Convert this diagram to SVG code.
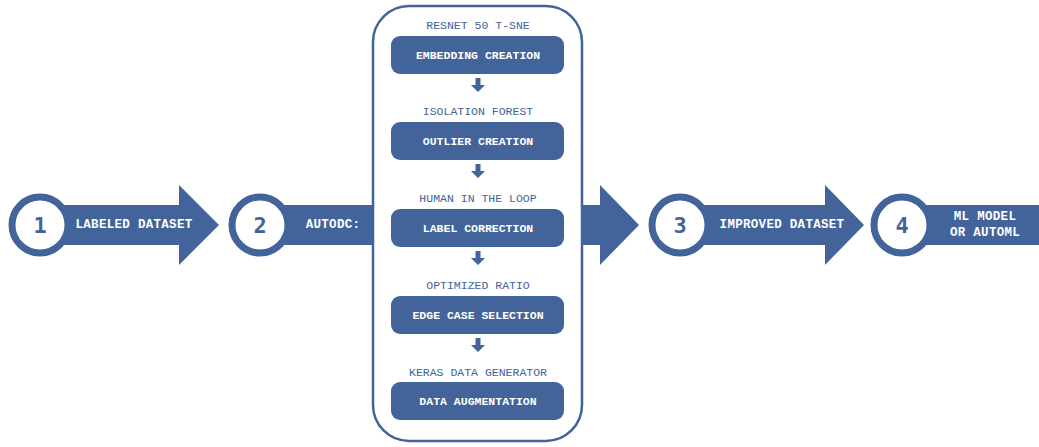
<svg xmlns="http://www.w3.org/2000/svg" width="1039" height="447" viewBox="0 0 1039 447">
<defs>
<style>
.fill{fill:#42649a}
.ring{fill:#fff;stroke:#42649a;stroke-width:7}
.num{font-family:"DejaVu Sans Mono","Liberation Mono",monospace;font-weight:bold;font-size:22px;fill:#42649a;text-anchor:middle;dominant-baseline:central}
.lbl{font-family:"Liberation Mono","DejaVu Sans Mono",monospace;font-weight:bold;font-size:12.5px;letter-spacing:0.3px;fill:#fff;text-anchor:middle;dominant-baseline:central}
.step{font-family:"Liberation Mono","DejaVu Sans Mono",monospace;font-weight:bold;font-size:11.5px;fill:#fff;text-anchor:middle;dominant-baseline:central}
.sub{font-family:"Liberation Mono","DejaVu Sans Mono",monospace;font-size:11.5px;fill:#42649a;text-anchor:middle;dominant-baseline:central}
.box{fill:#42649a}
</style>
<path id="dn" d="M-2.5,0 H2.5 V7 H7 L0,14 L-7,7 H-2.5 Z" fill="#42649a"/>
</defs>
<g id="autodc">
<rect x="373" y="6" width="209" height="435" rx="36" fill="#fff" stroke="#42649a" stroke-width="2.5"/>
</g>
<g id="connectors">
<path class="fill" d="M40,205 H179 V185 L219,225 L179,265 V245 H40 Z"/>
<path class="fill" d="M260,205 H373 V245 H260 Z"/>
<path class="fill" d="M582,205 H600 V185 L639,225 L600,265 V245 H582 Z"/>
<path class="fill" d="M680,205 H825 V185 L864,225 L825,265 V245 H680 Z"/>
<path class="fill" d="M902,205 H1039 V245 H902 Z"/>
<use href="#dn" x="478" y="78"/>
<use href="#dn" x="478" y="164"/>
<use href="#dn" x="478" y="251"/>
<use href="#dn" x="478" y="338"/>
</g>
<g id="node1">
<circle class="ring" cx="40" cy="225" r="28"/>
<text class="num" x="40" y="225">1</text>
<text class="lbl" x="134" y="225">LABELED DATASET</text>
</g>
<g id="node2">
<circle class="ring" cx="260" cy="225" r="28"/>
<text class="num" x="260" y="225">2</text>
<text class="lbl" x="333" y="225">AUTODC:</text>
</g>
<g id="step1">
<text class="sub" x="478" y="25">RESNET 50 T-SNE</text>
<rect class="box" x="391" y="36" width="173" height="38" rx="9"/>
<text class="step" x="478" y="55">EMBEDDING CREATION</text>
</g>
<g id="step2">
<text class="sub" x="478" y="111">ISOLATION FOREST</text>
<rect class="box" x="391" y="122" width="173" height="38" rx="9"/>
<text class="step" x="478" y="141">OUTLIER CREATION</text>
</g>
<g id="step3">
<text class="sub" x="478" y="198">HUMAN IN THE LOOP</text>
<rect class="box" x="391" y="209" width="173" height="38" rx="9"/>
<text class="step" x="478" y="228">LABEL CORRECTION</text>
</g>
<g id="step4">
<text class="sub" x="478" y="285">OPTIMIZED RATIO</text>
<rect class="box" x="391" y="296" width="173" height="38" rx="9"/>
<text class="step" x="478" y="315">EDGE CASE SELECTION</text>
</g>
<g id="step5">
<text class="sub" x="478" y="372">KERAS DATA GENERATOR</text>
<rect class="box" x="391" y="382" width="173" height="38" rx="9"/>
<text class="step" x="478" y="401">DATA AUGMENTATION</text>
</g>
<g id="node3">
<circle class="ring" cx="680" cy="225" r="28"/>
<text class="num" x="680" y="225">3</text>
<text class="lbl" x="782" y="225">IMPROVED DATASET</text>
</g>
<g id="node4">
<circle class="ring" cx="902" cy="225" r="28"/>
<text class="num" x="902" y="225">4</text>
<text class="lbl" x="985" y="217">ML MODEL</text>
<text class="lbl" x="985" y="233">OR AUTOML</text>
</g>
</svg>
